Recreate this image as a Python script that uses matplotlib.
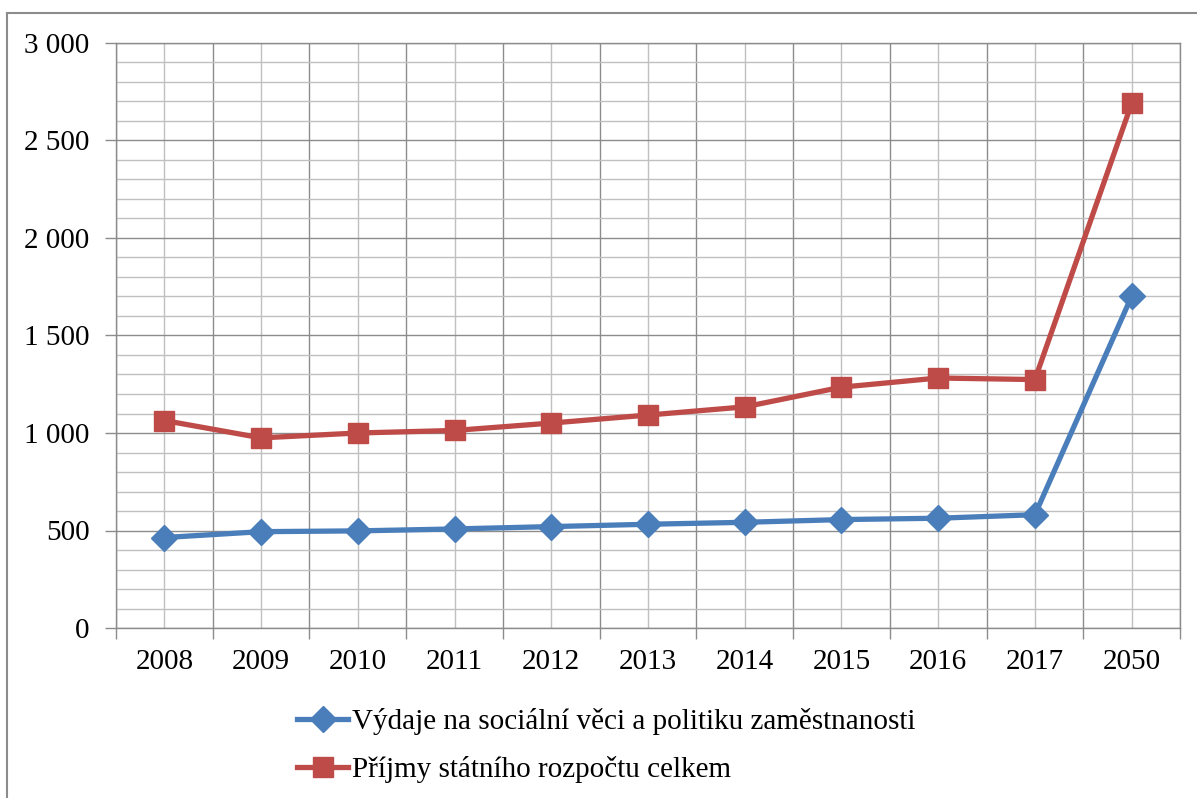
import matplotlib.pyplot as plt
from matplotlib.ticker import MultipleLocator, FuncFormatter
from matplotlib.lines import Line2D

years = ['2008', '2009', '2010', '2011', '2012', '2013', '2014', '2015', '2016', '2017', '2050']
vydaje = [464, 494, 498, 508, 520, 532, 542, 556, 563, 581, 1701]
prijmy = [1064, 975, 1000, 1013, 1051, 1092, 1134, 1235, 1282, 1274, 2690]

label_vydaje = 'Výdaje na sociální věci a politiku zaměstnanosti'
label_prijmy = 'Příjmy státního rozpočtu celkem'

plt.rcParams['font.family'] = ['Liberation Serif', 'DejaVu Serif']

W, H = 1197, 798
fig = plt.figure(figsize=(W / 100, H / 100), dpi=100)
ax = fig.add_axes([116 / W, 1 - 628 / H, (1180 - 116) / W, (628 - 43) / H])

major_c = '#8c8c8c'
minor_c = '#c0c0c0'
blue = '#4a7ebb'
red = '#be4b48'
fs = 21

x = list(range(len(years)))
ax.plot(x, vydaje, color=blue, lw=3.8, marker='D', markersize=13, zorder=3)
ax.plot(x, prijmy, color=red, lw=3.8, marker='s', markersize=15, zorder=3)

ax.set_xlim(-0.5, len(years) - 0.5)
ax.set_ylim(0, 3000)

# category boundaries as major ticks, category centres carry the labels
ax.set_xticks([i - 0.5 for i in range(len(years) + 1)])
ax.set_xticklabels([])
ax.set_xticks(x, minor=True)
ax.set_xticklabels(years, minor=True, fontsize=fs)
ax.tick_params(axis='x', which='major', length=8, color=major_c, width=1)
ax.tick_params(axis='x', which='minor', length=0, pad=15)

ax.yaxis.set_major_locator(MultipleLocator(500))
ax.yaxis.set_minor_locator(MultipleLocator(100))
ax.yaxis.set_major_formatter(FuncFormatter(lambda v, p: f'{int(v):,}'.replace(',', ' ')))
ax.tick_params(axis='y', which='major', length=8, color=major_c, width=1, labelsize=fs, pad=11)
ax.tick_params(axis='y', which='minor', length=0)

ax.grid(True, which='major', color=major_c, lw=1)
ax.grid(True, which='minor', color=minor_c, lw=1)
ax.set_axisbelow(True)
for s in ax.spines.values():
    s.set_color(major_c)
    s.set_linewidth(1)

handles = [
    Line2D([], [], color=blue, lw=3.8, marker='D', markersize=13),
    Line2D([], [], color=red, lw=3.8, marker='s', markersize=15),
]
fig.legend(handles, [label_vydaje, label_prijmy], loc='upper left',
           bbox_to_anchor=(297 / W, 1 - 708 / H), frameon=False, fontsize=fs,
           handlelength=1.75, handletextpad=0.15, labelspacing=0.72, borderpad=0,
           borderaxespad=0)

# outer chart frame
fig.add_artist(Line2D([7 / W, 7 / W], [0, 1 - 13 / H], color='#8c8c8c', lw=1.5))
fig.add_artist(Line2D([7 / W, 1], [1 - 13 / H, 1 - 13 / H], color='#8c8c8c', lw=1.5))

fig.savefig('out.png', dpi=100)
